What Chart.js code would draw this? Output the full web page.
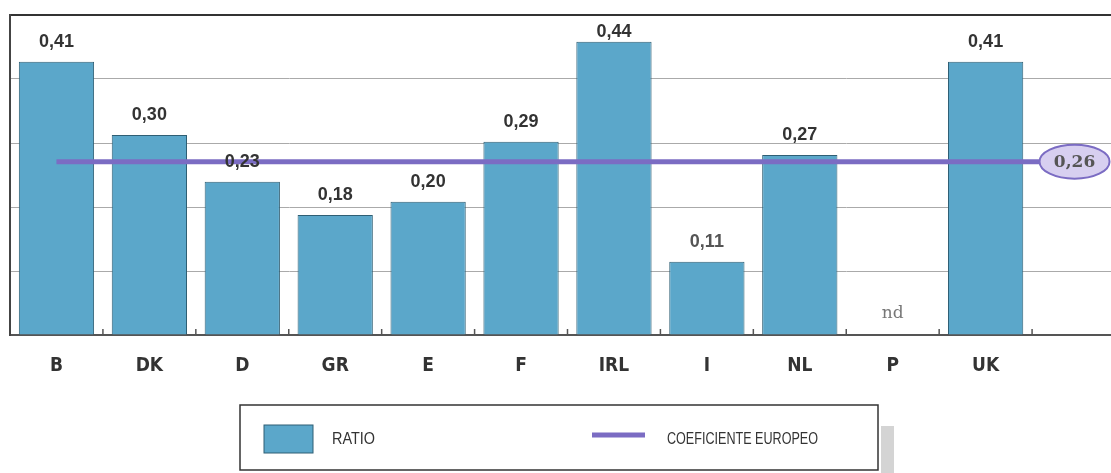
<!DOCTYPE html>
<html>
<head>
<meta charset="utf-8">
<script src="https://cdn.jsdelivr.net/npm/chart.js@4/dist/chart.umd.min.js"></script>
<style>
  html, body { margin: 0; padding: 0; background: #fff; overflow: hidden; }
  #wrap { position: relative; width: 1140px; height: 473px; }
</style>
</head>
<body>
<div id="wrap"><canvas id="ratioChart"></canvas></div>
<script>
// categories (last one is empty, it only carries the end of the average line)
const categories = ['B', 'DK', 'D', 'GR', 'E', 'F', 'IRL', 'I', 'NL', 'P', 'UK', ''];
// ratio per country, null = no data (nd)
const ratioValues = [0.41, 0.30, 0.23, 0.18, 0.20, 0.29, 0.44, 0.11, 0.27, null, 0.41, null];
// european coefficient
const euroValues = [0.26, 0.26, 0.26, 0.26, 0.26, 0.26, 0.26, 0.26, 0.26, 0.26, 0.26, 0.26];
const missingLabel = 'nd';

const BAR_COLOR = '#5ba7ca';
const LINE_COLOR = '#7b6cc3';

function fmt(v) {
  return v.toFixed(2).replace('.', ',');
}

// labels on top of the bars, "nd" for missing, bubble at the end of the line
const labelsPlugin = {
  id: 'labels',
  afterDatasetsDraw(chart) {
    const ctx = chart.ctx;
    const yScale = chart.scales.y;
    const xScale = chart.scales.x;
    const barMeta = chart.getDatasetMeta(1);
    ctx.save();
    ctx.textAlign = 'center';
    ctx.textBaseline = 'alphabetic';
    barMeta.data.forEach((bar, i) => {
      const v = ratioValues[i];
      if (!categories[i]) return;
      if (v === null) {
        ctx.fillStyle = '#777';
        ctx.font = '17px "DejaVu Serif", serif';
        ctx.fillText(missingLabel, bar.x, yScale.getPixelForValue(0) - 17);
        return;
      }
      ctx.fillStyle = v < 0.15 ? '#555' : '#333';
      ctx.font = 'bold 18px "Liberation Sans", Arial, sans-serif';
      // keep the label under the top frame
      const ty = Math.max(bar.y - 15, chart.chartArea.top + 22);
      ctx.fillText(fmt(v), bar.x, ty);
    });

    // small inward ticks on the base line between categories
    const base = yScale.getPixelForValue(0);
    ctx.strokeStyle = '#555';
    ctx.lineWidth = 1.5;
    for (let i = 1; i < categories.length; i++) {
      const bx = (xScale.getPixelForValue(i - 1) + xScale.getPixelForValue(i)) / 2;
      ctx.beginPath();
      ctx.moveTo(bx, base);
      ctx.lineTo(bx, base - 6);
      ctx.stroke();
    }

    // bubble with the average value
    const lineMeta = chart.getDatasetMeta(0);
    const last = lineMeta.data[lineMeta.data.length - 1];
    const bx = last.x - 4;
    const by = last.y;
    ctx.beginPath();
    ctx.ellipse(bx, by, 35, 17, 0, 0, Math.PI * 2);
    ctx.fillStyle = '#d7cff0';
    ctx.fill();
    ctx.lineWidth = 2;
    ctx.strokeStyle = LINE_COLOR;
    ctx.stroke();
    ctx.fillStyle = '#555';
    ctx.font = 'bold 17px "DejaVu Serif", serif';
    ctx.textBaseline = 'middle';
    ctx.fillText(fmt(euroValues[euroValues.length - 1]), bx, by + 1);
    ctx.restore();
  },
  afterDraw(chart) {
    // boxed legend under the chart
    const ctx = chart.ctx;
    const ds = chart.data.datasets;
    ctx.save();
    ctx.fillStyle = '#d4d4d4';
    ctx.fillRect(881, 426, 13, 50);
    ctx.fillStyle = '#fff';
    ctx.fillRect(240, 405, 638, 65);
    ctx.strokeStyle = '#333';
    ctx.lineWidth = 1.5;
    ctx.strokeRect(240, 405, 638, 65);

    ctx.fillStyle = BAR_COLOR;
    ctx.fillRect(264, 425, 49, 28);
    ctx.strokeStyle = '#2f5f74';
    ctx.lineWidth = 1;
    ctx.strokeRect(264, 425, 49, 28);

    ctx.strokeStyle = LINE_COLOR;
    ctx.lineWidth = 5;
    ctx.beginPath();
    ctx.moveTo(592, 435);
    ctx.lineTo(645, 435);
    ctx.stroke();

    ctx.fillStyle = '#333';
    ctx.font = '17px "Liberation Sans", sans-serif';
    ctx.textBaseline = 'middle';
    ctx.textAlign = 'left';
    ctx.fillText(ds[1].label, 332, 439, 43);
    ctx.fillText(ds[0].label, 667, 439, 151);
    ctx.restore();
  }
};

new Chart(document.getElementById('ratioChart'), {
  data: {
    labels: categories,
    datasets: [
      {
        type: 'line',
        label: 'COEFICIENTE EUROPEO',
        data: euroValues,
        borderColor: LINE_COLOR,
        borderWidth: 5,
        pointRadius: 0,
        tension: 0,
        order: 0
      },
      {
        type: 'bar',
        label: 'RATIO',
        data: ratioValues,
        backgroundColor: BAR_COLOR,
        borderColor: '#2f5f74',
        borderWidth: 1,
        categoryPercentage: 1,
        barPercentage: 0.81,
        order: 1
      }
    ]
  },
  options: {
    responsive: true,
    maintainAspectRatio: false,
    animation: false,
    layout: { padding: { left: 10, top: 15, right: 15, bottom: 0 } },
    plugins: {
      legend: { display: false },
      tooltip: { enabled: false }
    },
    scales: {
      x: {
        grid: { display: false, drawTicks: false },
        border: { display: true, color: '#555', width: 2 },
        ticks: {
          padding: 20,
          color: '#333',
          font: { family: '"DejaVu Sans Condensed", "DejaVu Sans", sans-serif', size: 19, weight: 'bold' }
        },
        afterFit(scale) { scale.height = 138; }
      },
      y: {
        min: 0,
        max: 0.48,
        ticks: { display: false, stepSize: 0.096 },
        grid: {
          drawTicks: false,
          color: (c) => (c.index === 5 ? '#333' : '#aaa'),
          lineWidth: (c) => (c.index === 5 ? 2 : 1)
        },
        border: { display: true, color: '#444', width: 2 },
        afterFit(scale) { scale.width = 0; }
      }
    }
  },
  plugins: [labelsPlugin]
});
</script>
</body>
</html>
